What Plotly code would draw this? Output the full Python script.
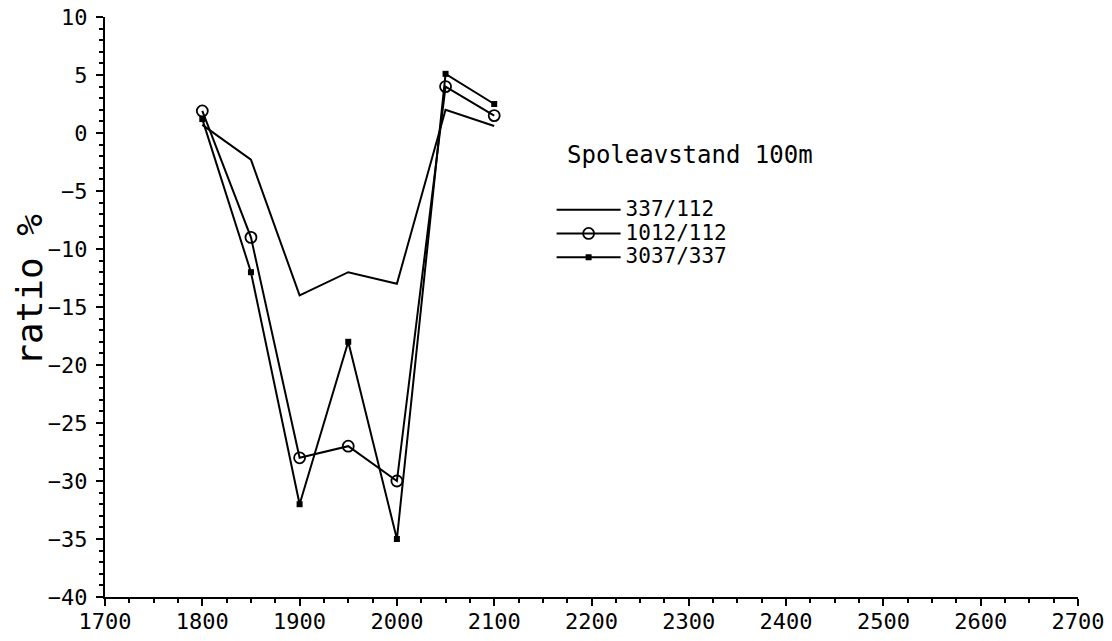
import plotly.graph_objects as go

# ---- data ----
spacing_m = [1800, 1850, 1900, 1950, 2000, 2050, 2100]
ratio_337_112 = [0.7, -2.3, -14.0, -12.0, -13.0, 2.0, 0.6]
ratio_1012_112 = [1.9, -9.0, -28.0, -27.0, -30.0, 4.0, 1.5]
ratio_3037_337 = [1.2, -12.0, -32.0, -18.0, -35.0, 5.1, 2.5]
series_names = ["337/112", "1012/112", "3037/337"]
legend_heading = "Spoleavstand 100m"
y_title = "ratio %"

FONT = "DejaVu Sans Mono"


def big(label):
    return '<span style="font-size:21px">' + label + "</span>"


fig = go.Figure()
fig.add_trace(go.Scatter(
    x=spacing_m, y=ratio_337_112, name=big(series_names[0]), mode="lines",
    line=dict(color="black", width=2),
))
fig.add_trace(go.Scatter(
    x=spacing_m, y=ratio_1012_112, name=big(series_names[1]), mode="lines+markers",
    line=dict(color="black", width=2),
    marker=dict(symbol="circle-open", size=11, color="black", line=dict(width=1.8, color="black")),
))
fig.add_trace(go.Scatter(
    x=spacing_m, y=ratio_3037_337, name=big(series_names[2]), mode="lines+markers",
    line=dict(color="black", width=2),
    marker=dict(symbol="square", size=6, color="black"),
))

axis_common = dict(
    showgrid=False, zeroline=False, showline=True, linecolor="black", linewidth=2,
    ticks="outside", ticklen=7, tickwidth=2, tickcolor="black",
    tickfont=dict(family=FONT, size=22, color="black"),
    automargin=False, ticklabeloverflow="allow",
)

fig.update_xaxes(
    range=[1700, 2700], dtick=100, tick0=1700,
    minor=dict(dtick=25, ticks="outside", ticklen=4, tickwidth=1.5, tickcolor="black"),
    ticklabelstandoff=-3,
    **axis_common,
)
fig.update_yaxes(
    range=[-40, 10], dtick=5, tick0=0,
    minor=dict(dtick=1, ticks="outside", ticklen=4, tickwidth=1.5, tickcolor="black"),
    ticklabelstandoff=4,
    **axis_common,
)

fig.add_annotation(
    text=y_title, xref="paper", yref="paper", x=-0.077, y=0.53,
    textangle=-90, showarrow=False, xanchor="center", yanchor="middle",
    font=dict(family=FONT, size=36, color="black"),
)
fig.add_annotation(
    text=legend_heading, xref="paper", yref="paper", x=0.473, y=0.762,
    showarrow=False, xanchor="left", yanchor="middle",
    font=dict(family=FONT, size=24, color="black"),
)

fig.update_layout(
    width=1112, height=641,
    margin=dict(l=105, r=34, t=17, b=44),
    paper_bgcolor="white", plot_bgcolor="white",
    showlegend=True,
    legend=dict(
        x=0.459, y=0.697, xanchor="left", yanchor="top",
        bgcolor="rgba(0,0,0,0)", borderwidth=0,
        font=dict(family=FONT, size=16, color="black"),
        itemwidth=64, tracegroupgap=0,
    ),
)

# remove the default page margin so the figure fills the window exactly
fig.write_html(
    "out.html",
    config={"displayModeBar": False},
    post_script="document.body.style.margin='0';",
)
